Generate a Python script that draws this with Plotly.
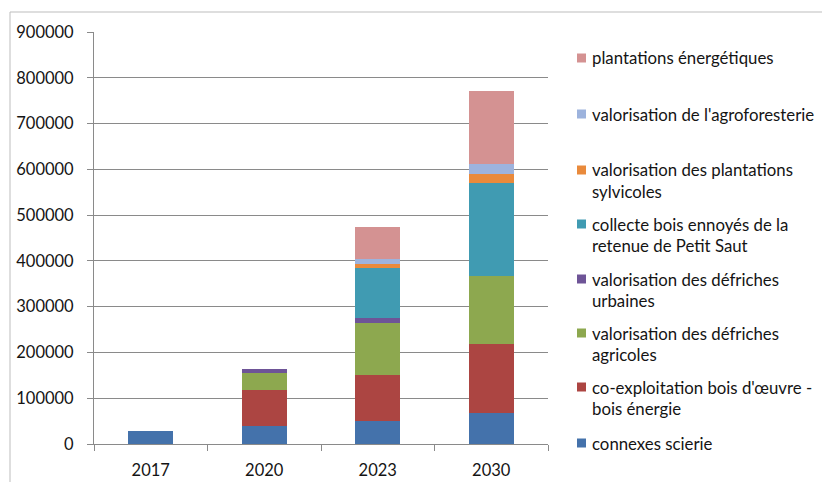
import plotly.graph_objects as go

categories = ["2017", "2020", "2023", "2030"]

series_names = [
    "connexes scierie",
    "co-exploitation bois d'œuvre -<br>bois énergie",
    "valorisation des défriches<br>agricoles",
    "valorisation des défriches<br>urbaines",
    "collecte bois ennoyés de la<br>retenue de Petit Saut",
    "valorisation des plantations<br>sylvicoles",
    "valorisation de l'agroforesterie",
    "plantations énergétiques",
]

connexes_scierie = [28000, 40000, 50000, 68000]
co_exploitation = [0, 78000, 100000, 150000]
defriches_agricoles = [0, 37000, 115000, 150000]
defriches_urbaines = [0, 9000, 10000, 0]
bois_ennoyes = [0, 0, 109000, 202000]
plantations_sylvicoles = [0, 0, 10000, 20000]
agroforesterie = [0, 0, 11000, 21000]
plantations_energetiques = [0, 0, 70000, 161000]

series_values = [
    connexes_scierie, co_exploitation, defriches_agricoles, defriches_urbaines,
    bois_ennoyes, plantations_sylvicoles, agroforesterie, plantations_energetiques,
]

colors = ["#4472AB", "#AC4542", "#8DA84F", "#6E5497",
          "#409BB2", "#E98A3C", "#9DB3DD", "#D49292"]

y_ticks = [0, 100000, 200000, 300000, 400000, 500000, 600000, 700000, 800000, 900000]

FONT = "Lato"
TXT = "#141414"

fig = go.Figure()
for name, vals, col in zip(series_names, series_values, colors):
    fig.add_trace(go.Bar(x=categories, y=vals, name=name.replace("<br>", " "),
                         marker=dict(color=col, line=dict(width=0)),
                         showlegend=False))

# layout geometry (pixels)
W, H = 822, 482
ML, MR, MT, MB = 94, 274, 32, 38
PW = W - ML - MR
PH = H - MT - MB

def px_x(px):
    return (px - ML) / PW

def px_y(py):
    return (H - MB - py) / PH

# custom legend (top to bottom = reversed stacking order)
row_y = [58, 114, 170, 224, 279, 333, 387, 443]
shapes = []
annotations = []
for i, idx in enumerate(range(len(series_names) - 1, -1, -1)):
    y0 = row_y[i]
    lines = series_names[idx].split("<br>")
    shapes.append(dict(type="rect", xref="paper", yref="paper",
                       x0=px_x(577), x1=px_x(586), y0=px_y(y0 + 4.5), y1=px_y(y0 - 4.5),
                       fillcolor=colors[idx], line=dict(width=0)))
    for j, ln in enumerate(lines):
        annotations.append(dict(text=ln, xref="paper", yref="paper",
                                x=px_x(590), y=px_y(y0 + j * 21), xanchor="left",
                                yanchor="middle", showarrow=False,
                                font=dict(family=FONT, size=16.8, color=TXT)))

# outer frame
shapes.append(dict(type="rect", xref="paper", yref="paper", layer="below",
                   x0=px_x(10), x1=px_x(W + 20), y0=px_y(H + 20), y1=px_y(12),
                   line=dict(color="#BDBDBD", width=1), fillcolor="rgba(0,0,0,0)"))

fig.update_layout(
    width=W, height=H,
    margin=dict(l=ML, r=MR, t=MT, b=MB, pad=0, autoexpand=False),
    barmode="stack", bargap=0.6,
    plot_bgcolor="white", paper_bgcolor="white",
    font=dict(family=FONT, size=16.5, color=TXT),
    shapes=shapes, annotations=annotations,
    showlegend=False,
)
fig.update_xaxes(type="category", tickson="boundaries", ticks="outside", ticklen=6,
                 tickcolor="#8a8a8a", showline=True, linecolor="#8a8a8a", linewidth=1,
                 showgrid=False, tickfont=dict(family=FONT, size=16.5, color=TXT),
                 ticklabelstandoff=11, automargin=False)
fig.update_yaxes(range=[0, 900000], tickvals=y_ticks, tickformat="d",
                 ticks="outside", ticklen=6, tickcolor="#8a8a8a",
                 showline=True, linecolor="#8a8a8a", linewidth=1,
                 showgrid=True, gridcolor="#8a8a8a", gridwidth=1, zeroline=False,
                 tickfont=dict(family=FONT, size=16.5, color=TXT),
                 ticklabelstandoff=10, automargin=False)

fig.write_html("out.html", config={"displayModeBar": False},
               post_script="document.body.style.margin='0';document.body.style.overflow='hidden';")
